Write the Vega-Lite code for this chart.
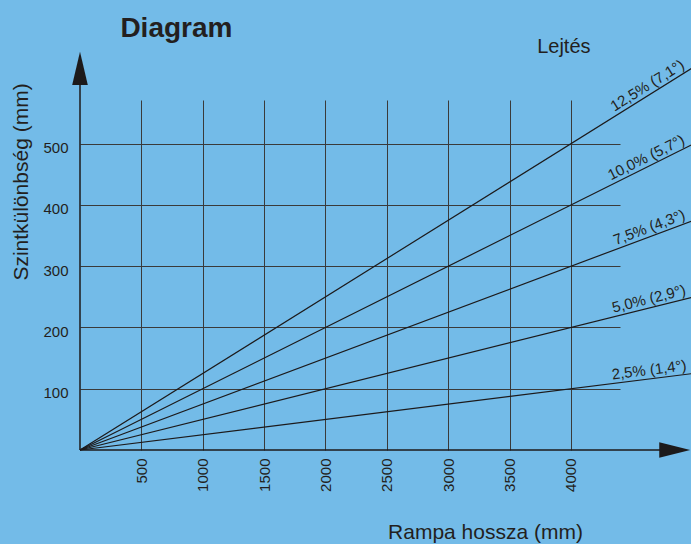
{
  "$schema": "https://vega.github.io/schema/vega-lite/v6.json",
  "width": 540,
  "height": 350,
  "autosize": {"type": "none"},
  "padding": {"left": 80, "top": 100, "right": 71, "bottom": 94},
  "background": "#73bbe8",
  "config": {
    "view": {"stroke": null},
    "font": "Liberation Sans",
    "text": {"font": "Liberation Sans", "color": "#231f20"}
  },
  "datasets": {
    "lines": [
      {"lejtes": "12,5% (7,1°)", "hossz": 0, "kulonbseg": 0},
      {"lejtes": "12,5% (7,1°)", "hossz": 5000, "kulonbseg": 625},
      {"lejtes": "10,0% (5,7°)", "hossz": 0, "kulonbseg": 0},
      {"lejtes": "10,0% (5,7°)", "hossz": 5000, "kulonbseg": 500},
      {"lejtes": "7,5% (4,3°)", "hossz": 0, "kulonbseg": 0},
      {"lejtes": "7,5% (4,3°)", "hossz": 5000, "kulonbseg": 375},
      {"lejtes": "5,0% (2,9°)", "hossz": 0, "kulonbseg": 0},
      {"lejtes": "5,0% (2,9°)", "hossz": 5000, "kulonbseg": 250},
      {"lejtes": "2,5% (1,4°)", "hossz": 0, "kulonbseg": 0},
      {"lejtes": "2,5% (1,4°)", "hossz": 5000, "kulonbseg": 125}
    ],
    "labels": [
      {"lejtes": "12,5% (7,1°)", "slope": 0.125, "hossz": 4950, "kulonbseg": 618.75},
      {"lejtes": "10,0% (5,7°)", "slope": 0.1, "hossz": 4950, "kulonbseg": 495},
      {"lejtes": "7,5% (4,3°)", "slope": 0.075, "hossz": 4950, "kulonbseg": 371.25},
      {"lejtes": "5,0% (2,9°)", "slope": 0.05, "hossz": 4950, "kulonbseg": 247.5},
      {"lejtes": "2,5% (1,4°)", "slope": 0.025, "hossz": 4950, "kulonbseg": 123.75}
    ]
  },
  "layer": [
    {
      "data": {"name": "lines"},
      "mark": {"type": "line", "color": "#1c1a1b", "strokeWidth": 1.2, "clip": false},
      "encoding": {
        "x": {
          "field": "hossz", "type": "quantitative",
          "scale": {"domain": [0, 4400], "nice": false, "zero": false},
          "axis": {
            "values": [500, 1000, 1500, 2000, 2500, 3000, 3500, 4000],
            "format": "d",
            "grid": true, "gridColor": "#3a3a3a", "gridWidth": 1, "gridOpacity": 1,
            "domain": false, "ticks": false,
            "labelAngle": -90, "labelAlign": "right", "labelBaseline": "middle",
            "labelPadding": 8, "labelFontSize": 15, "labelFont": "Liberation Sans", "labelColor": "#231f20",
            "title": "Rampa hossza (mm)", "titleFontSize": 21, "titleFontWeight": "normal",
            "titleFont": "Liberation Sans", "titleColor": "#231f20",
            "titleX": 405, "titleY": 88, "titleAlign": "center", "titleBaseline": "alphabetic"
          }
        },
        "y": {
          "field": "kulonbseg", "type": "quantitative",
          "scale": {"domain": [0, 571.4], "nice": false, "zero": false},
          "axis": {
            "values": [100, 200, 300, 400, 500],
            "format": "d",
            "grid": true, "gridColor": "#3a3a3a", "gridWidth": 1, "gridOpacity": 1,
            "domain": false, "ticks": false,
            "labelPadding": 12, "labelFontSize": 15, "labelFont": "Liberation Sans", "labelColor": "#231f20",
            "labelOffset": 4,
            "title": "Szintkülönbség (mm)", "titleFontSize": 21, "titleFontWeight": "normal",
            "titleFont": "Liberation Sans", "titleColor": "#231f20", "titleAngle": -90,
            "titleX": -53, "titleY": 81.5, "titleAlign": "center", "titleBaseline": "alphabetic"
          }
        },
        "detail": {"field": "lejtes"}
      }
    },
    {
      "data": {"name": "labels"},
      "mark": {"type": "text", "align": "right", "baseline": "bottom", "dy": -1, "fontSize": 15, "clip": false},
      "encoding": {
        "x": {"field": "hossz", "type": "quantitative"},
        "y": {"field": "kulonbseg", "type": "quantitative"},
        "text": {"field": "lejtes"},
        "angle": {
          "field": "slope", "type": "quantitative",
          "scale": {"domain": [0.025, 0.05, 0.075, 0.1, 0.125], "range": [-7.1, -14, -20.5, -26.5, -31.9]},
          "legend": null
        }
      }
    },
    {
      "data": {"values": [{}]},
      "mark": {"type": "rule", "color": "#1c1a1b", "strokeWidth": 1.5, "clip": false},
      "encoding": {
        "x": {"datum": 0, "type": "quantitative"},
        "y": {"datum": 0, "type": "quantitative"},
        "y2": {"datum": 596}
      }
    },
    {
      "data": {"values": [{}]},
      "mark": {"type": "rule", "color": "#1c1a1b", "strokeWidth": 1.5, "clip": false},
      "encoding": {
        "x": {"datum": 0, "type": "quantitative"},
        "x2": {"datum": 4726},
        "y": {"datum": 0, "type": "quantitative"}
      }
    },
    {
      "data": {"values": [{}]},
      "mark": {"type": "point", "shape": "M0,-1L0.47,1L-0.47,1Z", "size": 1109, "filled": true, "color": "#1c1a1b", "opacity": 1, "strokeWidth": 0, "clip": false},
      "encoding": {
        "x": {"datum": 0, "type": "quantitative"},
        "y": {"datum": 623, "type": "quantitative"}
      }
    },
    {
      "data": {"values": [{}]},
      "mark": {"type": "point", "shape": "M1,0L-1,-0.5L-1,0.5Z", "size": 961, "filled": true, "color": "#1c1a1b", "opacity": 1, "strokeWidth": 0, "clip": false},
      "encoding": {
        "x": {"datum": 4846, "type": "quantitative"},
        "y": {"datum": 0, "type": "quantitative"}
      }
    },
    {
      "data": {"values": [{}]},
      "mark": {"type": "text", "text": "Diagram", "fontSize": 28, "fontWeight": "bold", "align": "left", "baseline": "alphabetic", "clip": false},
      "encoding": {
        "x": {"datum": 329, "type": "quantitative"},
        "y": {"datum": 674.3, "type": "quantitative"}
      }
    },
    {
      "data": {"values": [{}]},
      "mark": {"type": "text", "text": "Lejtés", "fontSize": 20, "align": "left", "baseline": "alphabetic", "clip": false},
      "encoding": {
        "x": {"datum": 3725, "type": "quantitative"},
        "y": {"datum": 647.7, "type": "quantitative"}
      }
    }
  ]
}
